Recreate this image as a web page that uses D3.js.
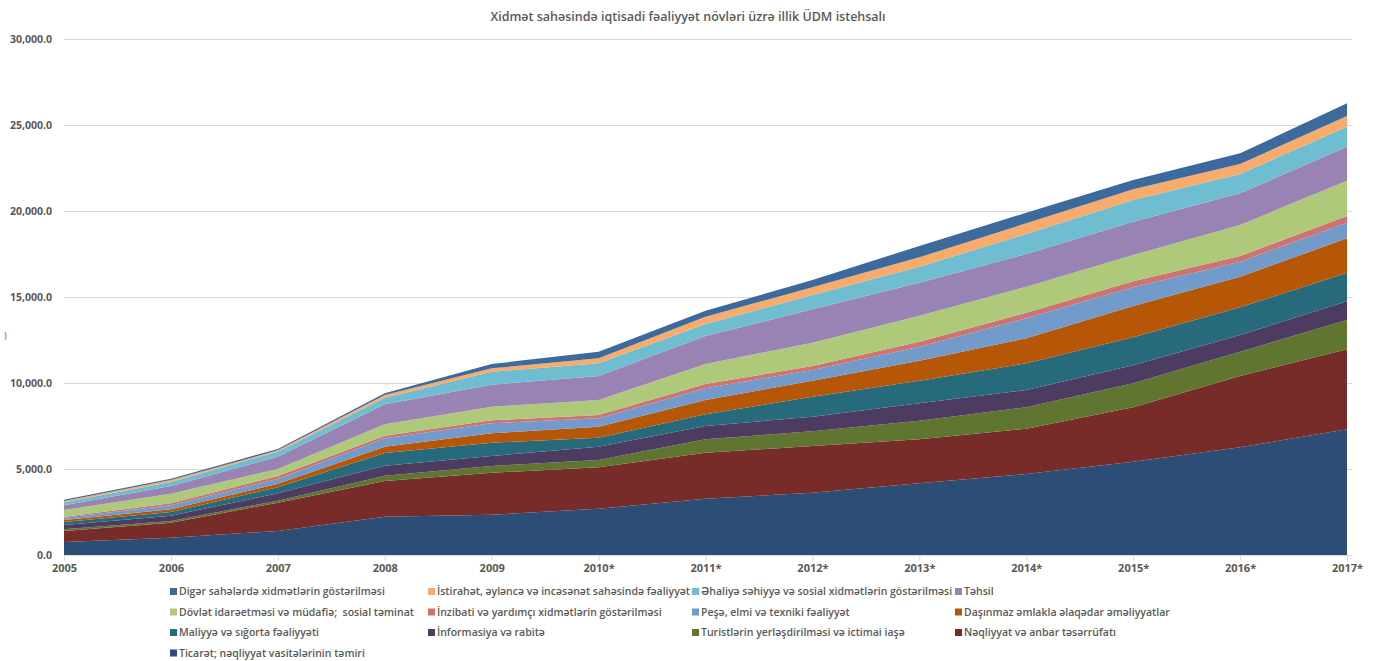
<!DOCTYPE html>
<html>
<head>
<meta charset="utf-8">
<script src="https://cdn.jsdelivr.net/npm/d3@7"></script>
<style>
	body { margin: 0; background: #fff; }
	text { font-family: "Open Sans", "Noto Sans", sans-serif; fill: #595959; }
</style>
</head>
<body>
<div id="chart"></div>
<script>

var years = ["2005", "2006", "2007", "2008", "2009", "2010*", "2011*", "2012*", "2013*", "2014*", "2015*", "2016*", "2017*"];

var yTicks = [0, 5000, 10000, 15000, 20000, 25000, 30000];

// series, bottom of stack first
var ticaret     = [760, 1006, 1395, 2227, 2343, 2694, 3275, 3624, 4167, 4709, 5426, 6260, 7306];
var neqliyyat   = [635, 874, 1648, 2075, 2442, 2403, 2675, 2713, 2558, 2634, 3159, 4147, 4653];
var turist      = [95, 97, 116, 310, 389, 426, 775, 855, 1083, 1242, 1396, 1415, 1704];
var informasiya = [254, 310, 426, 582, 582, 775, 775, 851, 1010, 1008, 1046, 969, 1087];
var maliyye     = [175, 213, 349, 736, 773, 524, 678, 1163, 1316, 1550, 1628, 1608, 1663];
var dasinmaz    = [116, 155, 213, 368, 544, 640, 834, 928, 1164, 1454, 1822, 1783, 2000];
var pese        = [135, 232, 272, 485, 581, 484, 678, 622, 814, 1163, 1085, 872, 907];
var inzibati    = [60, 117, 174, 155, 175, 194, 252, 232, 291, 329, 349, 330, 389];
var dovlet      = [386, 562, 407, 659, 793, 872, 1163, 1357, 1512, 1508, 1531, 1802, 2053];
var tehsil      = [271, 446, 717, 1163, 1279, 1395, 1628, 1938, 1918, 1903, 1938, 1841, 1976];
var ehaliye     = [174, 232, 291, 387, 756, 736, 697, 833, 929, 1163, 1260, 1124, 1163];
var istirahet   = [79, 116, 77, 155, 195, 291, 427, 448, 546, 620, 618, 582, 622];
var diger       = [77, 78, 78, 98, 253, 388, 346, 424, 657, 618, 544, 620, 737];

var seriesNames = [
	"Ticarət; nəqliyyat vasitələrinin təmiri",
	"Nəqliyyat və anbar təsərrüfatı",
	"Turistlərin yerləşdirilməsi və ictimai iaşə",
	"İnformasiya və rabitə",
	"Maliyyə və sığorta fəaliyyəti",
	"Daşınmaz əmlakla əlaqədar əməliyyatlar",
	"Peşə, elmi və texniki fəaliyyət",
	"İnzibati və yardımçı xidmətlərin göstərilməsi",
	"Dövlət idarəetməsi və müdafiə;  sosial təminat",
	"Təhsil",
	"Əhaliyə səhiyyə və sosial xidmətlərin göstərilməsi",
	"İstirahət, əyləncə və incəsənət sahəsində fəaliyyət",
	"Digər sahələrdə xidmətlərin göstərilməsi"
];
var seriesValues = [ticaret, neqliyyat, turist, informasiya, maliyye, dasinmaz, pese, inzibati, dovlet, tehsil, ehaliye, istirahet, diger];
var seriesColors = ["#2C4D75", "#772C2A", "#5F7530", "#4D3B62", "#276A7C", "#B65708", "#729ACA",
	"#CD7371", "#AFC97A", "#9983B5", "#6FBDD1", "#F9AB6B", "#3C6A9C"];

var width = 1376;
var height = 661;

var svg = d3.select("#chart")
		.append("svg")
		.attr("width", width)
		.attr("height", height);

// build rows for d3.stack
var rows = years.map(function(y, i) {
	var row = { year: y };
	seriesNames.forEach(function(name, k) {
		row[name] = seriesValues[k][i];
	});
	return row;
});

var stack = d3.stack().keys(seriesNames);
var layers = stack(rows);

var xScale = d3.scalePoint()
		.domain(years)
		.range([64, 1347]);

var yScale = d3.scaleLinear()
		.domain([0, 30000])
		.range([555, 39]);

// title
svg.append("text")
	.attr("x", 688)
	.attr("y", 21)
	.attr("text-anchor", "middle")
	.attr("font-size", 12.5)
	.attr("font-weight", 600)
	.text("Xidmət sahəsində iqtisadi fəaliyyət növləri üzrə illik ÜDM istehsalı");

// clipped axis title remnant
svg.append("text")
	.attr("x", 4)
	.attr("y", 339)
	.attr("font-size", 9)
	.text(")");

// gridlines
svg.append("g")
	.selectAll("line")
	.data(yTicks.slice(1))
	.enter()
	.append("line")
	.attr("x1", 64)
	.attr("x2", 1352)
	.attr("y1", function(d) { return yScale(d) + 0.5; })
	.attr("y2", function(d) { return yScale(d) + 0.5; })
	.attr("stroke", "#d9d9d9")
	.attr("stroke-width", 1);

var yAxis = d3.axisLeft(yScale)
		.tickValues(yTicks)
		.tickSize(0)
		.tickPadding(0)
		.tickFormat(d3.format(",.1f"));

var yAxisHandle = svg.append("g")
	.attr("transform", "translate(52,0)")
	.call(yAxis);
yAxisHandle.select(".domain").remove();
yAxisHandle.selectAll("text")
	.attr("font-size", 10.5)
	.attr("font-weight", 700)
	.attr("dy", "0.35em")
	.style("font-family", "'Open Sans', sans-serif")
	.attr("fill", "#595959");

// areas
var area = d3.area()
	.x(function(d) { return xScale(d.data.year); })
	.y0(function(d) { return yScale(d[0]); })
	.y1(function(d) { return yScale(d[1]); });

svg.append("g")
	.selectAll("path")
	.data(layers)
	.enter()
	.append("path")
	.attr("d", area)
	.attr("fill", function(d, i) { return seriesColors[i]; });

// x axis
var xAxis = d3.axisBottom(xScale)
		.tickSize(5)
		.tickPadding(4);

var xAxisHandle = svg.append("g")
	.attr("transform", "translate(0,555.5)")
	.call(xAxis);
xAxisHandle.select(".domain")
	.attr("stroke", "#d9d9d9")
	.attr("d", "M64,0H1352");
xAxisHandle.selectAll("line").attr("stroke", "#d9d9d9");
xAxisHandle.selectAll("text")
	.attr("font-size", 11)
	.attr("font-weight", 700)
	.style("font-family", "'Open Sans', sans-serif")
	.attr("fill", "#595959");

// legend, reverse order of the stack, 4 columns
var legendCols = [170, 428, 692, 955];
var legendRows = [594, 614.5, 635, 655.5];
var legendItems = seriesNames.map(function(name, k) {
	return { name: name, color: seriesColors[k] };
}).reverse();

var legend = svg.append("g")
	.selectAll("g")
	.data(legendItems)
	.enter()
	.append("g")
	.attr("transform", function(d, i) {
		return "translate(" + legendCols[i % 4] + "," + legendRows[Math.floor(i / 4)] + ")";
	});

legend.append("rect")
	.attr("x", 0)
	.attr("y", -6)
	.attr("width", 7)
	.attr("height", 7)
	.attr("fill", function(d) { return d.color; });

legend.append("text")
	.attr("x", 9)
	.attr("y", 0)
	.attr("dy", "0.1em")
	.attr("font-size", 10.5)
	.attr("font-weight", 600)
	.style("white-space", "pre")
	.text(function(d) { return d.name; });

</script>
</body>
</html>
